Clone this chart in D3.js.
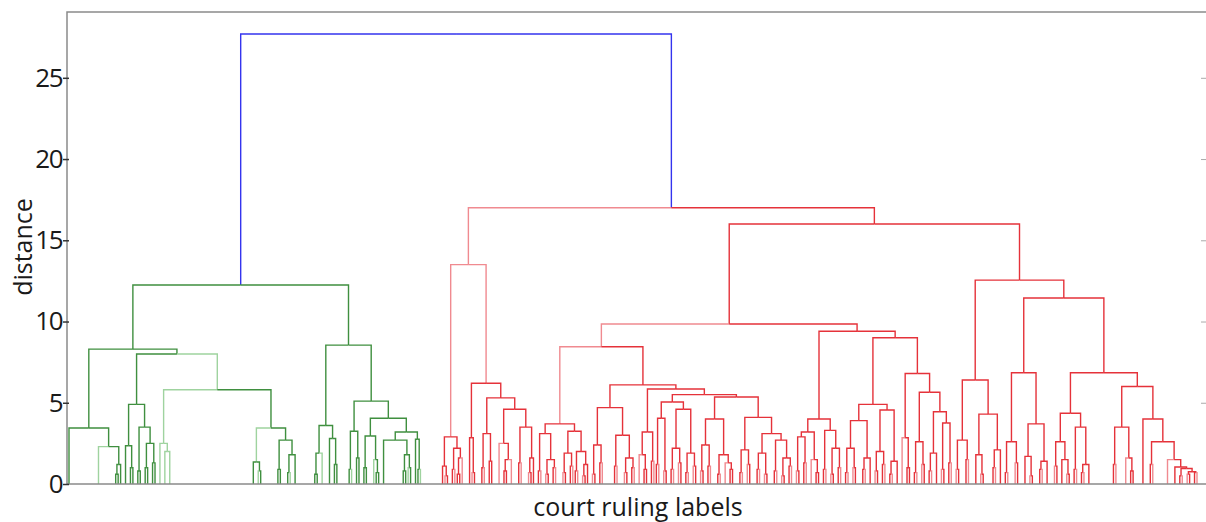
<!DOCTYPE html>
<html>
<head>
<meta charset="utf-8">
<script src="https://cdn.jsdelivr.net/npm/d3@7"></script>
<style>
  body { margin: 0; background: #fff; }
  svg { display: block; font-family: "Open Sans", sans-serif; }
</style>
</head>
<body>
<svg id="chart" width="1206" height="522"></svg>
<script>
// 1: DATA
// tree notation: (left,right)height ; leaves are leaf-order slots ; ' marks a lighter link
const yTicks = [0, 5, 10, 15, 20, 25];
const yLabel = "distance";
const xLabel = "court ruling labels";

// green cluster
const greenA1 = "(0,(12',((19,20)0.6,21)1.2)2.3)3.45";
const greenB = "((23,(25,26)1.0)2.35,((28,29)0.8,((31,32)1.0,(34,35)1.3)2.5)3.5)4.9";
const greenC = "((37',(39',41')2.0')2.5',((75,(77',78)0.8)1.35',((85,86)0.9,((89,90')0.7,92)1.8)2.7)3.45)5.8'";
const greenD1 = "(((100,101)0.6,103')1.9,(106,(108,109)1.2)2.8)3.6";
const greenD2 = "(((114,115')0.9,(117,118)1.6)3.25,(((120,121)1.0,(124',(125,126)0.7)1.5)2.95,((128,((136,137)0.8,(138',139)1.0)1.8)2.7,(141,(142,143')0.9)2.75)3.2)4.05)5.1";

// red cluster
const redU1 = "((152,(153',154)0.5)1.1,((156,157')0.9,((158,159)0.6,160')1.6)2.2)2.9'";
const redU2 = "((163,(164',165)0.7)2.85,(((168,169')1.0,(171,172)1.4)3.1,((175',((177,178)0.8,180')1.5)2.5,((183,184')1.3,((187',188)0.7,189)1.6)3.5)4.6)5.3)6.2'";
const redW1a = "(((191,192')0.8,((194',195)0.6,(197,198')1.0)1.5)3.1,(((201',202)0.7,(204,205')1.1)1.9,((206,207')0.8,((209',210)0.5,211)1.2)2.0)3.25)3.7'";
const redW1b1 = "(((213',214)0.6,(216,217')1.3)2.4,((222,223')1.1,((226',227)0.7,(229,230')1.0)1.6)3.0)4.7";
const redN236 = "((232',(234,235)0.9)1.8,(237,238')1.4)3.2";
const redN244 = "(((239,240')1.2,(242',243)0.8)4.05,(((245,246')0.9,(248',249)1.3)2.2,((251,252')0.7,(254',255)1.1)1.9)4.6)5.05";
const redN266 = "(((257',258)0.8,(260,261')1.1)2.4,((264,265')0.6,(267',(269,270)0.9)1.3)1.8)4.0";
const redN285 = "(((273,274')0.7,(276',277)1.2)2.1,(((280,281')0.9,(283',284)0.6)1.9,((287,288')0.8,((290',291)0.5,(293,294')1.1)1.6)2.7)3.1)4.1";
const redW2a = "((((296',297)0.8,(299,300')1.3)2.9,(302',(304,305)0.7)1.5)3.2,((307,308')0.9,((310',311)0.6,(313,314')1.0)2.2)3.3)4.0";
const redW2b1L = "(((316,317')0.7,(319',320)1.0)2.2,((323,324')0.9,326)1.6)3.9";
const redW2b1R = "(((328',329)0.8,(331,332')1.2)2.0,((334,335')0.6,337)1.4)4.55";
const redW2b2 = "((339',(341,342)1.0)2.85,(((344,345')0.7,(347',348)1.2)2.6,(((350,351')0.8,353)1.9,((355',356)0.9,(358,359')1.3)3.75)4.45)5.65)6.8";
const redX1 = "(((361',362)0.9,(365,366')1.5)2.7,((369,(371',372)0.6)1.8,((376,377')1.0,379)2.1)4.3)6.4";
const redX2a = "(((381,382')0.7,(385',386)1.3)2.6,((389,(391',392)0.5)1.7,((395,396')0.9,398)1.4)3.7)6.85";
const redN407 = "(((401',402)1.1,(404,(406',407)0.6)1.5)2.6,((409,410')0.9,((412,413')0.7,415)1.2)3.5)4.35";
const redN434 = "(((425,426')1.2,(430',(432,433)0.8)1.6)3.5,(437,((440,441')1.2,(447',(450,((452,453')0.5,((455',456)0.6,(458,459')0.7)0.75)0.95)1.05)1.5)2.6)4.0)6.0";

// merge heights above the small subtrees
const greenTop = `((${greenA1},(${greenB},${greenC})8.0)8.3,(${greenD1},${greenD2})8.55)12.25`;
const redW1 = `(${redW1a},(${redW1b1},(${redN236},(${redN244},(${redN266},${redN285})5.35)5.5)5.85)6.1)8.45'`;
const redW2 = `(${redW2a},((${redW2b1L},${redW2b1R})4.9,${redW2b2})9.0)9.4`;
const redX = `(${redX1},(${redX2a},(${redN407},${redN434})6.85)11.45)12.55`;
const redTop = `((${redU1},${redU2})13.5',((${redW1},${redW2})9.85,${redX})16.0)17.0`;
const rootTree = `(${greenTop},${redTop})27.7`;

const leafSlots = 459;
const colors = { root: "#3434ee", g: "#3f8f3f", gLight: "#9fd39f", r: "#e5323a", rLight: "#f08a90" };

// 2: PARSE
function parseTree(str) {
    str = str.replace(/\s+/g, "");
    let i = 0;
    function num() {
        const m = /^[0-9.]+/.exec(str.slice(i));
        i += m[0].length;
        return +m[0];
    }
    function mark() {
        if (str[i] === "'") { i++; return true; }
        return false;
    }
    function node() {
        if (str[i] === "(") {
            i++;
            const a = node();
            i++; // ,
            const b = node();
            i++; // )
            const h = num();
            return { children: [a, b], h: h, light: mark() };
        }
        const s = num();
        return { slot: s, h: 0, light: mark() };
    }
    return node();
}

const root = d3.hierarchy(parseTree(rootTree));
root.eachAfter(d => {
    d.x = d.children ? d3.mean(d.children, c => c.x) : d.data.slot;
});
root.cluster = "root";
root.children[0].each(d => d.cluster = "g");
root.children[1].each(d => d.cluster = "r");

// 3: SCALES
const plot = { left: 67, right: 1207, top: 12, bottom: 484 };
const svg = d3.select("#chart");

const xScale = d3.scaleLinear().domain([0, leafSlots]).range([69, 1197]);
const yScale = d3.scaleLinear().domain([0, 29.05]).range([plot.bottom, plot.top]);

// 4: LINKS (one elbow per child, coloured by its parent's cluster)
const links = root.descendants().filter(d => d.parent);
svg.append("g")
    .selectAll("path")
    .data(links)
    .join("path")
    .attr("fill", "none")
    .attr("stroke-width", 1.4)
    .attr("stroke", d => {
        const c = d.parent.cluster;
        if (c === "root") return colors.root;
        return d.data.light ? colors[c + "Light"] : colors[c];
    })
    .attr("d", d => `M${xScale(d.x)},${yScale(d.data.h)}V${yScale(d.parent.data.h)}H${xScale(d.parent.x)}`);

// 5: AXES
svg.append("path")
    .attr("fill", "none")
    .attr("stroke", "#8a8a8a")
    .attr("stroke-width", 1.5)
    .attr("d", `M${plot.right},${plot.top}H${plot.left}V${plot.bottom}H${plot.right}`);

const yAxis = svg.append("g")
    .attr("transform", `translate(${plot.left},0)`)
    .call(d3.axisLeft(yScale).tickValues(yTicks).tickSizeInner(-5).tickSizeOuter(0).tickPadding(5));
yAxis.select(".domain").remove();
yAxis.selectAll("line").attr("stroke", "#333").attr("stroke-width", 1.5).attr("x1", -4).attr("x2", 2);
yAxis.selectAll("text")
    .attr("font-size", 26)
    .attr("letter-spacing", -1.5)
    .attr("fill", "#1a1a1a")
    .attr("font-family", "Open Sans");

const yAxisR = svg.append("g")
    .attr("transform", `translate(${plot.right},0)`)
    .call(d3.axisRight(yScale).tickValues(yTicks.slice(1)).tickSizeInner(-6).tickSizeOuter(0).tickFormat(""));
yAxisR.select(".domain").remove();
yAxisR.selectAll("line").attr("stroke", "#aaa");

// 6: LABELS
svg.append("text")
    .attr("transform", `translate(32,247) rotate(-90)`)
    .attr("text-anchor", "middle")
    .attr("font-size", 25)
    .attr("fill", "#1a1a1a")
    .text(yLabel);

svg.append("text")
    .attr("x", 638)
    .attr("y", 516)
    .attr("text-anchor", "middle")
    .attr("font-size", 25)
    .attr("fill", "#1a1a1a")
    .text(xLabel);
</script>
</body>
</html>
